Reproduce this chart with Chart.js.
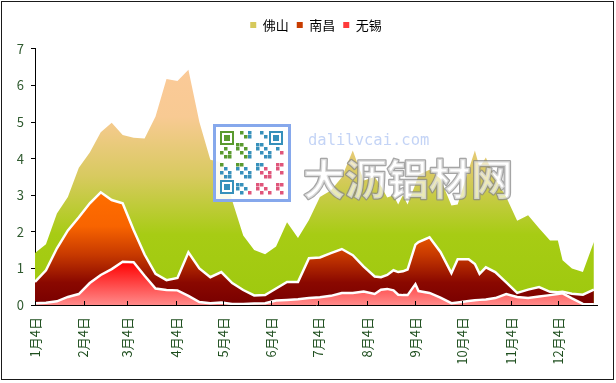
<!DOCTYPE html>
<html>
<head>
<meta charset="utf-8">
<script src="https://cdn.jsdelivr.net/npm/chart.js@4.4.1/dist/chart.umd.min.js"></script>
<style>
html, body { margin: 0; padding: 0; background: #fff; }
#wrap { width: 616px; height: 383px; }
</style>
</head>
<body>
<div id="wrap"><canvas id="chart" width="616" height="383"></canvas></div>
<script>
"use strict";

// weekly-ish price dates (month-day)
const dates = ['1-4','1-11','1-18','1-25','2-1','2-8','2-15','2-22','3-1','3-8',
    '3-15','3-22','3-29','4-5','4-12','4-19','4-26','5-3','5-10','5-17',
    '5-24','5-31','6-7','6-14','6-21','6-28','7-5','7-12','7-19','7-26',
    '8-2','8-9','8-13','8-17','8-21','8-24','8-27','8-30','9-4','9-6',
    '9-13','9-20','9-27','10-1','10-8','10-12','10-15','10-19','10-25','11-1',
    '11-8','11-15','11-22','11-29','12-4','12-7','12-13','12-20','12-27'];

const foshan = [1.42, 1.66, 2.5, 2.95, 3.75, 4.17, 4.72, 4.98, 4.65, 4.57,
    4.55, 5.15, 6.18, 6.12, 6.43, 5.0, 3.97, 3.9, 2.85, 1.9,
    1.5, 1.39, 1.6, 2.26, 1.83, 2.32, 2.95, 3.13, 3.49, 4.22,
    3.4, 3.5, 3.25, 2.94, 3.0, 2.75, 3.0, 2.75, 3.3, 3.55,
    3.7, 3.45, 2.72, 2.75, 3.7, 4.22, 3.76, 4.03, 3.45, 2.95,
    2.3, 2.45, 2.1, 1.76, 1.76, 1.22, 1.0, 0.9, 1.72];

const nanchang = [0.63, 0.95, 1.55, 2.04, 2.4, 2.78, 3.08, 2.87, 2.78, 2.05,
    1.38, 0.85, 0.68, 0.74, 1.44, 1.0, 0.76, 0.9, 0.6, 0.41,
    0.26, 0.27, 0.45, 0.63, 0.63, 1.28, 1.3, 1.42, 1.53, 1.36,
    1.05, 0.78, 0.76, 0.82, 0.95, 0.9, 0.92, 0.97, 1.65, 1.72,
    1.85, 1.45, 0.87, 1.25, 1.25, 1.12, 0.85, 1.03, 0.9, 0.62,
    0.33, 0.42, 0.49, 0.36, 0.35, 0.36, 0.31, 0.28, 0.42];

const wuxi = [0.05, 0.06, 0.1, 0.22, 0.3, 0.6, 0.82, 0.98, 1.18, 1.17,
    0.8, 0.45, 0.41, 0.4, 0.25, 0.08, 0.05, 0.07, 0.03, 0.03,
    0.04, 0.05, 0.12, 0.14, 0.16, 0.19, 0.21, 0.25, 0.33, 0.33,
    0.37, 0.3, 0.42, 0.44, 0.4, 0.28, 0.27, 0.27, 0.57, 0.38,
    0.33, 0.2, 0.05, 0.07, 0.11, 0.13, 0.14, 0.15, 0.19, 0.3,
    0.22, 0.19, 0.23, 0.27, 0.3, 0.32, 0.18, 0.03, 0.02];

const tickDates = ['1-4','2-4','3-4','4-4','5-4','6-4','7-4','8-4','9-4','10-4','11-4','12-4'];
const tickLabels = ['1月4日','2月4日','3月4日','4月4日','5月4日','6月4日',
    '7月4日','8月4日','9月4日','10月4日','11月4日','12月4日'];
const lastDate = '12-29';

function dayOf(md) {
    let p = md.split('-');
    return (Date.UTC(2013, p[0] - 1, +p[1]) - Date.UTC(2013, 0, 4)) / 86400000;
}

function points(values) {
    return values.map((v, i) => ({x: dayOf(dates[i]), y: v}));
}

function vGradient(context, top, stops) {
    const chart = context.chart;
    if (!chart.chartArea) return stops[0][1];
    const y = chart.scales.y;
    const g = chart.ctx.createLinearGradient(0, y.getPixelForValue(top), 0, y.getPixelForValue(0));
    for (let s of stops) g.addColorStop(s[0], s[1]);
    return g;
}

const FONT = "'Noto Sans CJK SC', 'DejaVu Sans', sans-serif";
const legendColors = ['#d6c95c', '#c83c00', '#ff3a3a'];

const innerTicks = {
    id: 'innerTicks',
    afterDatasetsDraw(chart) {
        const c = chart.ctx;
        const xs = chart.scales.x;
        const bottom = chart.chartArea.bottom;
        c.save();
        c.strokeStyle = '#000';
        c.lineWidth = 1;
        c.beginPath();
        for (let d of tickDates) {
            const px = Math.round(xs.getPixelForValue(dayOf(d))) + 0.5;
            c.moveTo(px, bottom - 4);
            c.lineTo(px, bottom);
        }
        c.stroke();
        c.restore();
    }
};

const watermark = {
    id: 'watermark',
    afterDatasetsDraw(chart) {
        const c = chart.ctx;
        c.save();
        // qr code badge
        c.fillStyle = 'rgba(255,255,255,0.9)';
        c.fillRect(213, 124, 78, 78);
        c.strokeStyle = '#86a8ec';
        c.lineWidth = 3;
        c.strokeRect(214.5, 125.5, 75, 75);
        for (let r = 0; r < 16; r++) {
            for (let k = 0; k < 16; k++) {
                const inFinder = (r < 4 && k < 4) || (r < 4 && k > 11) || (r > 11 && k < 4);
                if (inFinder || (r * 7 + k * 13 + r * k) % 5 > 1) continue;
                const px = 220 + k * 4, py = 131 + r * 4;
                c.fillStyle = r + k > 19 && k > 6 ? '#e0557a' : (r < 9 && k < 7 ? '#5a9a2e' : '#3690bb');
                c.fillRect(px, py, 3.5, 3.5);
            }
        }
        const finder = (x, y, col) => {
            c.fillStyle = col;
            c.fillRect(x, y, 14, 14);
            c.fillStyle = '#fff';
            c.fillRect(x + 2, y + 2, 10, 10);
            c.fillStyle = col;
            c.fillRect(x + 4, y + 4, 6, 6);
        };
        finder(220, 131, '#5a9a2e');
        finder(269, 131, '#3690bb');
        finder(220, 180, '#3690bb');
        // site name
        c.font = "15.5px 'DejaVu Sans Mono'";
        c.fillStyle = '#c4d4f6';
        c.textBaseline = 'alphabetic';
        c.fillText('dalilvcai.com', 308, 145);
        c.font = "bold 42px 'Noto Sans CJK SC'";
        c.lineJoin = 'round';
        c.lineWidth = 2.5;
        c.strokeStyle = 'rgba(135,135,135,0.75)';
        c.strokeText('大沥铝材网', 303, 195);
        c.fillStyle = 'rgba(255,255,255,0.6)';
        c.fillText('大沥铝材网', 303, 195);
        c.restore();
    }
};

const frame = {
    id: 'frame',
    afterDraw(chart) {
        const c = chart.ctx;
        c.save();
        c.strokeStyle = '#1a1a1a';
        c.lineWidth = 1;
        c.strokeRect(1.5, 1.5, 612, 378);
        c.restore();
    }
};

const ctx = document.getElementById('chart').getContext('2d');
const myChart = new Chart(ctx, {
    type: 'line',
    data: {
        datasets: [{
            label: '佛山',
            data: points(foshan),
            order: 3,
            fill: 'origin',
            borderWidth: 0,
            borderColor: 'rgba(0,0,0,0)',
            backgroundColor: c => vGradient(c, Math.max(...foshan),
                [[0, '#fbca98'], [0.2, '#f8ca93'], [0.45, '#d8ca60'], [0.7, '#a7cc14'], [1, '#9ec90e']])
        }, {
            label: '南昌',
            data: points(nanchang),
            order: 2,
            fill: 'origin',
            borderWidth: 2.5,
            borderColor: '#fff',
            backgroundColor: c => vGradient(c, Math.max(...nanchang),
                [[0, '#ff6e00'], [0.3, '#f86400'], [0.55, '#c83a00'], [0.8, '#8a0800'], [1, '#780000']])
        }, {
            label: '无锡',
            data: points(wuxi),
            order: 1,
            fill: 'origin',
            borderWidth: 2.5,
            borderColor: '#fff',
            backgroundColor: c => vGradient(c, Math.max(...wuxi),
                [[0, '#ff0000'], [1, '#ff8a8a']])
        }]
    },
    options: {
        responsive: false,
        animation: false,
        devicePixelRatio: 1,
        layout: {padding: {top: 10.5, right: 19, bottom: 0, left: 0}},
        elements: {point: {radius: 0}, line: {tension: 0}},
        plugins: {
            tooltip: {enabled: false},
            // empty spacer between legend and plot
            subtitle: {display: true, text: '', weight: 900, font: {size: 2}, padding: {top: 0, bottom: 5}},
            legend: {
                position: 'top',
                fullSize: false,
                labels: {
                    boxWidth: 6,
                    boxHeight: 6,
                    padding: 8,
                    color: '#333',
                    font: {family: FONT, size: 13},
                    sort: (a, b) => a.datasetIndex - b.datasetIndex,
                    generateLabels: chart => chart.data.datasets.map((ds, i) => ({
                        text: ds.label,
                        fillStyle: legendColors[i],
                        strokeStyle: legendColors[i],
                        lineWidth: 0,
                        hidden: false,
                        datasetIndex: i
                    }))
                }
            }
        },
        scales: {
            x: {
                type: 'linear',
                z: 1,
                min: dayOf('1-4'),
                max: dayOf(lastDate),
                afterBuildTicks: scale => {
                    scale.ticks = tickDates.map(d => ({value: dayOf(d)}));
                },
                afterFit: scale => { scale.height = 78; },
                grid: {display: false, drawTicks: false},
                border: {display: true, color: '#000', width: 1},
                ticks: {
                    autoSkip: false,
                    maxRotation: 90,
                    minRotation: 90,
                    padding: 12,
                    color: '#1f4f1f',
                    font: {family: FONT, size: 13},
                    callback: (value, index) => tickLabels[index]
                }
            },
            y: {
                z: 1,
                min: 0,
                max: 7,
                afterFit: scale => { scale.width = 35; },
                grid: {drawOnChartArea: false, drawTicks: true, tickLength: 4, color: '#000'},
                border: {display: true, color: '#000', width: 1},
                ticks: {
                    stepSize: 1,
                    padding: 7,
                    color: '#2f5a2f',
                    font: {family: FONT, size: 13}
                }
            }
        }
    },
    plugins: [innerTicks, watermark, frame]
});
</script>
</body>
</html>
